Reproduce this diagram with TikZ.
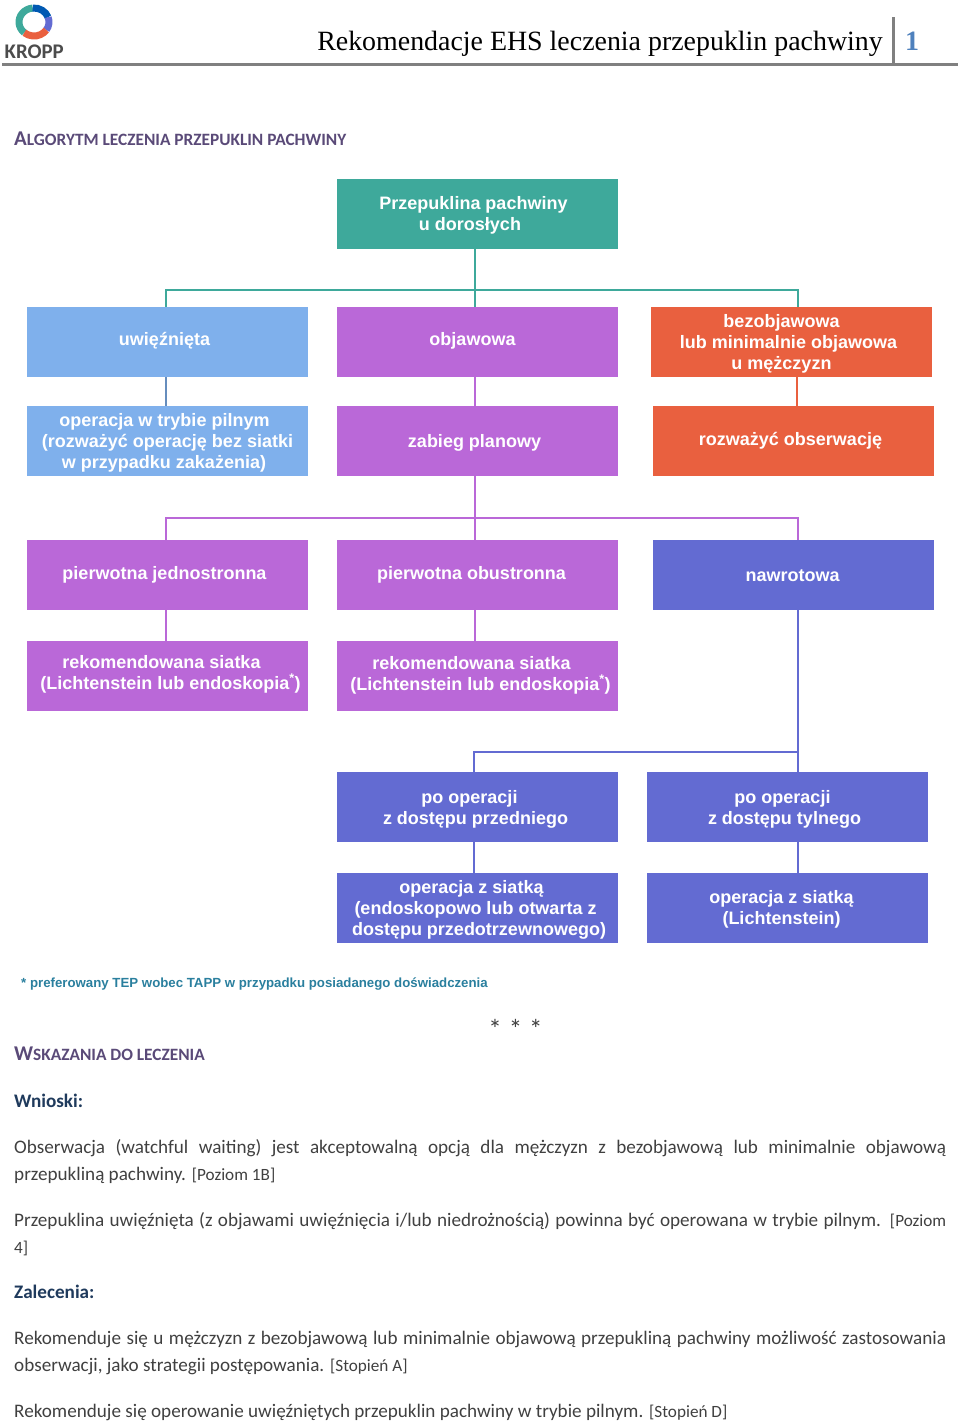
\documentclass[tikz,border=0pt]{standalone}
\usepackage{fontspec}
\setmainfont{Liberation Sans}
\newfontfamily\bodyfont{Carlito}
\newfontfamily\headfont{Liberation Serif}
\usepackage{xcolor}
\usetikzlibrary{positioning}
\definecolor{tealbox}{HTML}{3EA99B}
\definecolor{bluebox}{HTML}{7FB0EC}
\definecolor{purplebox}{HTML}{BA68D8}
\definecolor{redbox}{HTML}{E9603F}
\definecolor{indigobox}{HTML}{636BD2}
\definecolor{headcol}{HTML}{5A4A78}
\definecolor{bodycol}{HTML}{404040}
\definecolor{subcol}{HTML}{1F3A5C}
\definecolor{notecol}{HTML}{2A7F9E}
\definecolor{numcol}{HTML}{4F81BD}
\tikzset{
  box/.style    = {rectangle, fill=#1, draw=none, minimum width=281pt, minimum height=70pt, inner sep=0pt},
  lab/.style    = {font=\fontsize{18}{21}\selectfont\bfseries, text=white, align=center, inner sep=0pt},
  link/.style   = {draw=#1, line width=2pt},
  para/.style   = {anchor=north west, font=\bodyfont\fontsize{19.15}{27}\selectfont, text=bodycol,
                   text width=932pt, align=justify, inner sep=0pt},
  headline/.style = {anchor=base west, font=\bodyfont\bfseries\fontsize{21}{22}\selectfont, text=headcol, inner sep=0pt},
  subhead/.style  = {anchor=base west, font=\bodyfont\bfseries\fontsize{19.15}{22}\selectfont, text=subcol, inner sep=0pt},
  logoarc/.style  = {line width=7pt, draw=#1},
}
\newcommand{\smc}[2]{#1{\fontsize{17.3}{22}\selectfont #2}}
\newcommand{\lev}[1]{{\fontsize{17.2}{27}\selectfont #1}}
\begin{document}
\begin{tikzpicture}[x=1pt,y=-1pt]
  \useasboundingbox (0,0) rectangle (960,1422);
  % header
  \fill[black!50] (2,62.5) rectangle (958,66);
  \fill[black!50] (892,17) rectangle (895,64);
  \node[anchor=base east, inner sep=0pt, font=\headfont\fontsize{27.9}{30}\selectfont] (title) at (883,50) {Rekomendacje EHS leczenia przepuklin pachwiny};
  \node[anchor=base, inner sep=0pt, text=numcol, font=\headfont\bfseries\fontsize{28}{30}\selectfont] (pagenum) at (912,50) {1};
  % logo
  \begin{scope}[shift={(34,22)}, x=1pt, y=1pt]
    \draw[logoarc=tealbox] (95:15 and 14) arc[start angle=95, end angle=230, x radius=15, y radius=14];
    \draw[logoarc=blue!50!cyan!70!black] (95:15 and 14) arc[start angle=95, end angle=20, x radius=15, y radius=14];
    \draw[logoarc=indigobox] (20:15 and 14) arc[start angle=20, end angle=-35, x radius=15, y radius=14];
    \draw[logoarc=redbox] (-35:15 and 14) arc[start angle=-35, end angle=-130, x radius=15, y radius=14];
  \end{scope}
  \node[anchor=base west, inner sep=0pt, text=black!70, font=\bodyfont\bfseries\fontsize{20.8}{22}\selectfont] (kropp) at (4.5,58.5) {KROPP};

  \node[headline] (alg) at (14,145) {\smc{A}{LGORYTM LECZENIA PRZEPUKLIN PACHWINY}};

  % boxes
  \node[box=tealbox, label={[lab,shift={(-4,1)}]center:{Przepuklina pachwiny\\u dorosłych\hspace*{7pt}}}] (top) at (477.5,214) {};
  \node[box=bluebox, label={[lab,shift={(-3,-1)}]center:uwięźnięta}] (uwi) at (167.5,342) {};
  \node[box=purplebox, label={[lab,shift={(-5,-1)}]center:objawowa}] (obj) at (477.5,342) {};
  \node[box=redbox, label={[lab,shift={(-3,2)}]center:{bezobjawowa\hspace*{14pt}\\lub minimalnie objawowa\\u mężczyzn\hspace*{14pt}}}] (bez) at (791.5,342) {};
  \node[box=bluebox, label={[lab,shift={(0,2)}]center:{operacja w trybie pilnym\hspace*{6pt}\\(rozważyć operację bez siatki\\w przypadku zakażenia)\hspace*{7pt}}}] (ope) at (167.5,441) {};
  \node[box=purplebox, label={[lab,shift={(-3,2)}]center:zabieg planowy}] (zab) at (477.5,441) {};
  \node[box=redbox, label={[lab,shift={(-3,0)}]center:rozważyć obserwację}] (roz) at (793.5,441) {};

  \node[box=purplebox, label={[lab,shift={(-3,0)}]center:pierwotna jednostronna}] (jed) at (167.5,575) {};
  \node[box=purplebox, label={[lab,shift={(-6,0)}]center:pierwotna obustronna}] (obu) at (477.5,575) {};
  \node[box=indigobox, label={[lab,shift={(-1,1)}]center:nawrotowa}] (naw) at (793.5,575) {};
  \node[box=purplebox, label={[lab,shift={(3,-2)}]center:{rekomendowana siatka\hspace*{18pt}\\(Lichtenstein lub endoskopia\textsuperscript{*})}}] (rekj) at (167.5,676) {};
  \node[box=purplebox, label={[lab,shift={(3,-1)}]center:{rekomendowana siatka\hspace*{18pt}\\(Lichtenstein lub endoskopia\textsuperscript{*})}}] (reko) at (477.5,676) {};

  \node[box=indigobox, label={[lab,shift={(-2,2)}]center:{po operacji\hspace*{12pt}\\z dostępu przedniego}}] (prz) at (477.5,807) {};
  \node[box=indigobox, label={[lab,shift={(-3,2)}]center:{po operacji\hspace*{4pt}\\z dostępu tylnego}}] (tyl) at (787.5,807) {};
  \node[box=indigobox, label={[lab,shift={(-5,2)}]center:{operacja z siatką\hspace*{2pt}\\\hspace*{6pt}(endoskopowo lub otwarta z\\\hspace*{13pt}dostępu przedotrzewnowego)}}] (sia) at (477.5,908) {};
  \node[box=indigobox, label={[lab,shift={(-6,1)}]center:{operacja z siatką\\(Lichtenstein)}}] (lic) at (787.5,908) {};

  % connectors
  \coordinate (tealbus) at (166,290);
  \coordinate (purplebus) at (166,518);
  \coordinate (indigobus) at (474,752);
  \draw[link=tealbox] ([xshift=-3pt]top.south) -- ([xshift=-3pt]obj.north);
  \draw[link=tealbox] ([xshift=-1.5pt]uwi.north) -- (tealbus) -- +(632,0) -- ([xshift=6.5pt]bez.north);
  \draw[link=bluebox!80!black] ([xshift=-2pt]uwi.south) -- ([xshift=-2pt]ope.north);
  \draw[link=purplebox] ([xshift=-3pt]obj.south) -- ([xshift=-3pt]zab.north);
  \draw[link=redbox] ([xshift=5.5pt]bez.south) -- ([xshift=3.5pt]roz.north);
  \draw[link=purplebox] ([xshift=-3pt]zab.south) -- ([xshift=-3pt]obu.north);
  \draw[link=purplebox] ([xshift=-1.5pt]jed.north) -- (purplebus) -- +(632,0) -- ([xshift=4.5pt]naw.north);
  \draw[link=purplebox] ([xshift=-2pt]jed.south) -- ([xshift=-2pt]rekj.north);
  \draw[link=purplebox] ([xshift=-3pt]obu.south) -- ([xshift=-3pt]reko.north);
  \draw[link=indigobox] ([xshift=4.5pt]naw.south) -- ([xshift=10.5pt]tyl.north);
  \draw[link=indigobox] ([xshift=-3.5pt]prz.north) -- (indigobus) -- +(324,0);
  \draw[link=indigobox] ([xshift=-4pt]prz.south) -- ([xshift=-4pt]sia.north);
  \draw[link=indigobox] ([xshift=10pt]tyl.south) -- ([xshift=10pt]lic.north);

  % text below the chart
  \node[anchor=base west, inner sep=0pt, text=notecol, font=\fontsize{13.25}{16}\selectfont\bfseries] (note) at (21,987) {* preferowany TEP wobec TAPP w przypadku posiadanego doświadczenia};
  \node[anchor=base, inner sep=0pt, text=bodycol, font=\bodyfont\fontsize{27}{28}\selectfont] (stars) at (515.5,1038) {*\hspace{7pt}*\hspace{7pt}*};
  \node[headline] (wsk) at (14,1060) {\smc{W}{SKAZANIA DO LECZENIA}};
  \node[subhead] (wni) at (14,1107) {Wnioski:};
  \node[para] (p1) at (14,1139) {Obserwacja (watchful waiting) jest akceptowalną opcją dla mężczyzn z bezobjawową lub minimalnie objawową\linebreak przepukliną pachwiny. \lev{[Poziom 1B]}};
  \node[para] (p2) at (14,1212) {Przepuklina uwięźnięta (z objawami uwięźnięcia i/lub niedrożnością) powinna być operowana w trybie pilnym. \lev{[Poziom\linebreak 4]}};
  \node[subhead] (zal) at (14,1298) {Zalecenia:};
  \node[para] (p3) at (14,1331) {Rekomenduje się u mężczyzn z bezobjawową lub minimalnie objawową przepukliną pachwiny możliwość zastosowania\linebreak obserwacji, jako strategii postępowania. \lev{[Stopień A]}};
  \node[para] (p4) at (14,1404) {Rekomenduje się operowanie uwięźniętych przepuklin pachwiny w trybie pilnym. \lev{[Stopień D]}};
\end{tikzpicture}
\end{document}
